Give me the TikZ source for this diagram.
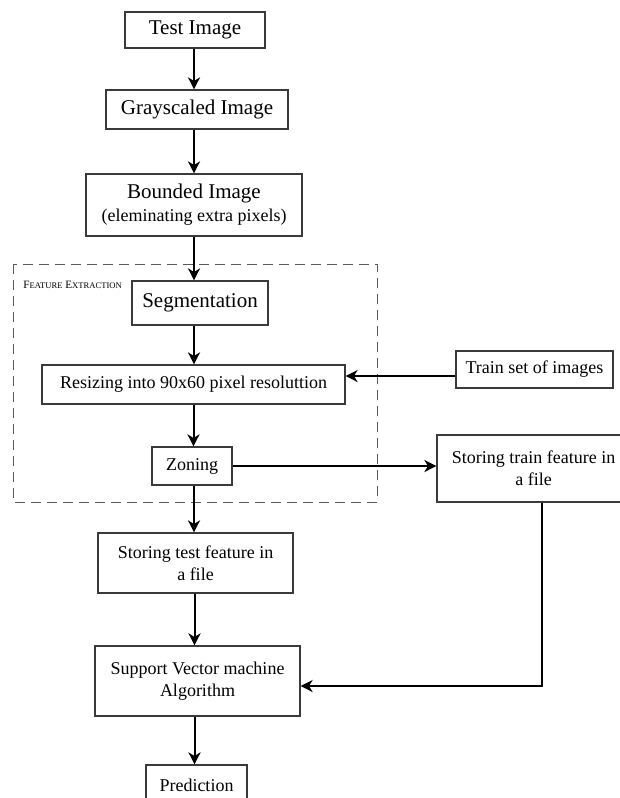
\documentclass[tikz,border=0pt]{standalone}
\usepackage{fontspec}
\setmainfont{Liberation Serif}
\usepackage{xcolor}
\usetikzlibrary{arrows.meta,positioning}
\definecolor{edgegray}{HTML}{3A3A3A}
\definecolor{dashgray}{HTML}{5A5A5A}
\newcommand{\bigtxt}{\fontsize{10.5}{11.5}\selectfont}
\newcommand{\smalltxt}{\fontsize{9}{10.8}\selectfont}
\tikzset{
  ar/.style={-{Stealth[length=6pt,width=6pt,inset=1.8pt]},line width=1pt,black},
  box/.style={draw=edgegray,line width=0.6pt,fill=white,align=center,inner sep=1pt,font=\smalltxt}
}

\begin{document}
\begin{tikzpicture}[x=0.5pt,y=-0.5pt]
\clip (0,0) rectangle (620,798);
\draw[dashgray,line width=0.5pt,dash pattern=on 5pt off 3pt] (13,264) rectangle (377,502);
\node[anchor=west,inner sep=0pt,font=\fontsize{5.6}{6}\selectfont] (fe) at (23,285) {F{\fontsize{4.3}{5}\selectfont EATURE} E{\fontsize{4.3}{5}\selectfont XTRACTION}};
\node[box,font=\bigtxt,minimum width=70pt,minimum height=18pt] (test) at (195,30) {Test Image};
\node[box,font=\bigtxt,minimum width=91pt,minimum height=19.5pt] (gray) at (197,109.5) {Grayscaled Image};
\node[box,font=\bigtxt,minimum width=108pt,minimum height=31pt] (bound) at (194,205) {Bounded Image\\{\smalltxt (eleminating extra pixels)}};
\node[box,font=\bigtxt,minimum width=68pt,minimum height=22pt] (seg) at (200,303) {Segmentation};
\node[box,minimum width=151.5pt,minimum height=19.5pt] (resize) at (193.5,384.5) {Resizing into 90x60 pixel resoluttion};
\node[box,minimum width=40pt,minimum height=19pt] (zone) at (192,466) {Zoning};
\node[box,minimum width=97.5pt,minimum height=30pt] (strtest) at (195.5,563) {Storing test feature in\\a file};
\node[box,minimum width=102.5pt,minimum height=35pt] (svm) at (197.5,681) {Support Vector machine\\Algorithm};
\node[box,minimum width=50.5pt,minimum height=20pt] (pred) at (196.5,785) {Prediction};
\node[box,minimum width=78.5pt,minimum height=18.5pt] (train) at (534.5,369.5) {Train set of images};
\node[box,minimum width=96.5pt,minimum height=33.5pt] (strtrain) at (533.5,468.5) {Storing train feature in\\a file};
% main chain
\draw[ar] ([xshift=-0.5pt]test.south) -- ([xshift=-0.5pt]test.south |- gray.north);
\draw[ar] ([xshift=-1.5pt]gray.south) -- ([xshift=-1.5pt]gray.south |- bound.north);
\draw[ar] (bound.south) -- (bound.south |- seg.north);
\draw[ar] ([xshift=-3pt]seg.south) -- ([xshift=-3pt]seg.south |- resize.north);
\draw[ar] (resize.south) -- (resize.south |- zone.north);
\draw[ar] ([xshift=1pt]zone.south) -- ([xshift=1pt]zone.south |- strtest.north);
\draw[ar] ([xshift=-0.5pt]strtest.south) -- ([xshift=-0.5pt]strtest.south |- svm.north);
\draw[ar] ([xshift=-1.5pt]svm.south) -- ([xshift=-1.5pt]svm.south |- pred.north);
% side branch
\draw[ar] ([yshift=-3.25pt]train.west) -- ([yshift=-3.25pt]train.west -| resize.east);
\draw[ar] (zone.east) -- (zone.east -| strtrain.west);
\draw[ar] ([xshift=4.25pt]strtrain.south) |- ([yshift=-2.5pt]svm.east);
\end{tikzpicture}
\end{document}
